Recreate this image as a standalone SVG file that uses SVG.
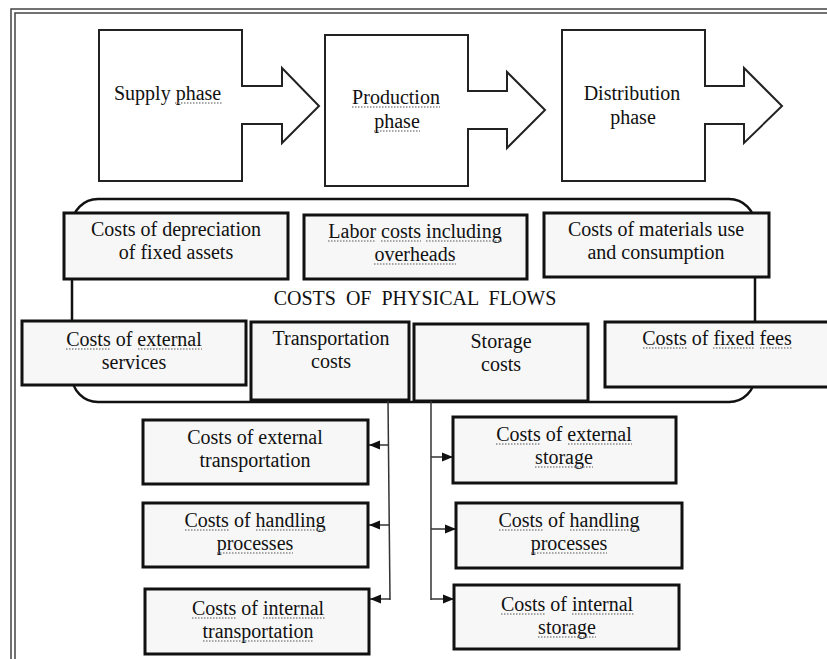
<svg xmlns="http://www.w3.org/2000/svg" width="827" height="659" viewBox="0 0 827 659" font-family="Liberation Serif, DejaVu Serif, serif" font-size="20">
<defs>
<style>
text{fill:#111;}
.c{text-anchor:middle;}
.phase{fill:#fff;stroke:#222;stroke-width:2;}
.box{fill:#f7f7f7;stroke:#111;stroke-width:3;}
.conn{fill:none;stroke:#333;stroke-width:1.5;}
.sq{fill:none;stroke:#8a8a8a;stroke-width:1.3;stroke-dasharray:1.5 1.5;}
</style>
<marker id="ah" viewBox="0 0 10 10" refX="10" refY="5" markerWidth="11" markerHeight="11" markerUnits="userSpaceOnUse" orient="auto">
<path d="M0,1 L10,5 L0,9 Z" fill="#111"/>
</marker>
</defs>
<rect width="827" height="659" fill="#fff"/>
<g id="frame" fill="none" stroke="#444" stroke-width="1.5">
<rect x="11" y="9" width="900" height="900"/>
<rect x="15" y="13" width="900" height="900"/>
</g>

<g id="supply">
<path class="phase" d="M99,30 H242 V86 H282 V68 L319,106 L282,143 V124 H242 V181 H99 Z"/>
<text x="114" y="100">Supply phase</text>
<path class="sq" d="M175,103H222"/>
</g>
<g id="production">
<path class="phase" d="M325,35 H468 V91 H507 V72 L545,110 L507,148 V129 H468 V186 H325 Z"/>
<text class="c" x="396" y="104">Production</text>
<text class="c" x="397" y="128">phase</text>
<path class="sq" d="M352,107H440M374,131H420"/>
</g>
<g id="distribution">
<path class="phase" d="M562,30 H705 V86 H744 V68 L782,106 L744,143 V124 H705 V181 H562 Z"/>
<text class="c" x="632" y="100">Distribution</text>
<text class="c" x="633" y="124">phase</text>
</g>

<g id="physical-flows">
<rect x="72" y="199" width="683" height="203" rx="26" ry="26" fill="#fff" stroke="#111" stroke-width="2.5"/>
<text class="c" x="415" y="305" word-spacing="5">COSTS OF PHYSICAL FLOWS</text>
</g>

<g id="depreciation">
<rect class="box" x="64" y="213" width="224" height="66"/>
<text class="c" x="176" y="236">Costs of depreciation</text>
<text class="c" x="176" y="259">of fixed assets</text>
</g>
<g id="labor">
<rect class="box" x="304" y="215" width="223" height="64"/>
<text class="c" x="415" y="238">Labor costs including</text>
<text class="c" x="415" y="261">overheads</text>
<path class="sq" d="M328,241H376M381,241H421M426,241H502M374,264H456"/>
</g>
<g id="materials">
<rect class="box" x="544" y="213" width="225" height="64"/>
<text class="c" x="656" y="236">Costs of materials use</text>
<text class="c" x="656" y="259">and consumption</text>
</g>
<g id="external-services">
<rect class="box" x="22" y="321" width="224" height="64"/>
<text class="c" x="134" y="346">Costs of external</text>
<text class="c" x="134" y="369">services</text>
<path class="sq" d="M66,349H111M138,349H202"/>
</g>
<g id="transportation">
<rect class="box" x="251" y="322" width="158" height="78"/>
<text class="c" x="331" y="345">Transportation</text>
<text class="c" x="331" y="368">costs</text>
</g>
<g id="storage">
<rect class="box" x="414" y="324" width="174" height="77"/>
<text class="c" x="501" y="348">Storage</text>
<text class="c" x="501" y="371">costs</text>
</g>
<g id="fixed-fees">
<rect class="box" x="605" y="322" width="240" height="65"/>
<text class="c" x="717" y="345">Costs of fixed fees</text>
<path class="sq" d="M643,348H687M713,348H755M760,348H792"/>
</g>

<g id="connectors">
<path class="conn" d="M388,401 L390,600"/>
<path class="conn" d="M388,445 H369" marker-end="url(#ah)"/>
<path class="conn" d="M389,525 H369" marker-end="url(#ah)"/>
<path class="conn" d="M390,599 H370" marker-end="url(#ah)"/>
<path class="conn" d="M431,401 V600"/>
<path class="conn" d="M431,457 H453" marker-end="url(#ah)"/>
<path class="conn" d="M431,529 H456" marker-end="url(#ah)"/>
<path class="conn" d="M431,599 H454" marker-end="url(#ah)"/>
</g>

<g id="ext-transportation">
<rect class="box" x="143" y="420" width="225" height="64"/>
<text class="c" x="255" y="444">Costs of external</text>
<text class="c" x="255" y="467">transportation</text>
</g>
<g id="handling-left">
<rect class="box" x="143" y="503" width="225" height="64"/>
<text class="c" x="255" y="527">Costs of handling</text>
<text class="c" x="255" y="550">processes</text>
<path class="sq" d="M185,530H229M256,530H326M217,553H293"/>
</g>
<g id="int-transportation">
<rect class="box" x="145" y="589" width="224" height="65"/>
<text class="c" x="258" y="615">Costs of internal</text>
<text class="c" x="258" y="638">transportation</text>
<path class="sq" d="M192,618H236M263,618H325M203,641H313"/>
</g>
<g id="ext-storage">
<rect class="box" x="453" y="417" width="223" height="66"/>
<text class="c" x="564" y="441">Costs of external</text>
<text class="c" x="564" y="464">storage</text>
<path class="sq" d="M496,444H541M568,444H632M535,467H593"/>
</g>
<g id="handling-right">
<rect class="box" x="456" y="503" width="226" height="65"/>
<text class="c" x="569" y="527">Costs of handling</text>
<text class="c" x="569" y="550">processes</text>
<path class="sq" d="M499,530H543M570,530H640M531,553H607"/>
</g>
<g id="int-storage">
<rect class="box" x="454" y="585" width="225" height="64"/>
<text class="c" x="567" y="611">Costs of internal</text>
<text class="c" x="567" y="634">storage</text>
<path class="sq" d="M501,614H545M572,614H634M538,637H596"/>
</g>
</svg>
